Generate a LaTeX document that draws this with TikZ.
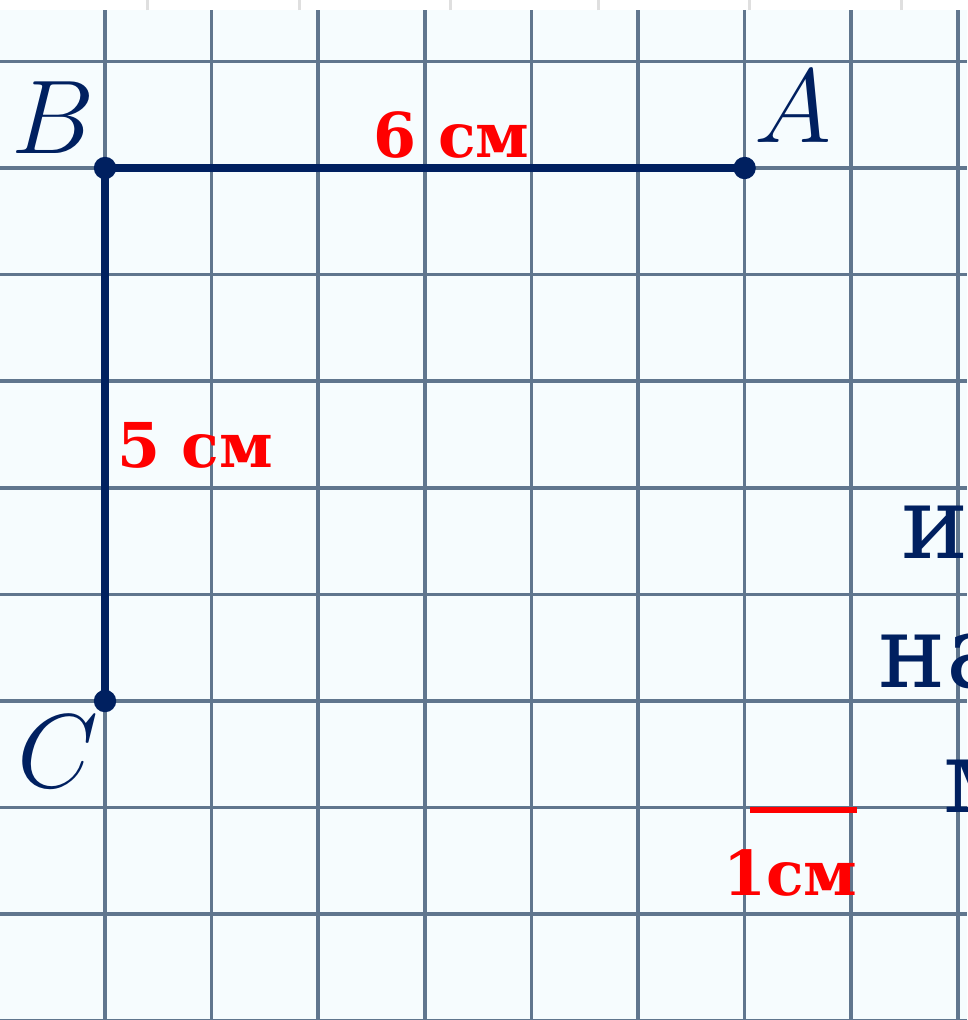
\RequirePackage{fix-cm}
\documentclass[tikz,border=0pt]{standalone}
\usepackage{fontspec}
\newfontfamily\slabfont{DejaVu Serif}
\definecolor{navy}{RGB}{0,32,96}
\definecolor{gridblue}{RGB}{96,118,142}
\definecolor{paper}{RGB}{246,252,254}
\tikzset{
  gridline/.style={draw=gridblue, line width=0.95pt},
  segment/.style={draw=navy, line width=1.9pt},
  vertex/.style={circle, fill=navy, inner sep=0pt, minimum size=0.21cm},
  ptlabel/.style={text=navy, font=\fontsize{28}{31}\selectfont, anchor=base, inner sep=0pt},
  lenlabel/.style={text=red, font=\slabfont\bfseries\fontsize{16.5}{18}\selectfont, anchor=base, inner sep=0pt},
  pagetext/.style={text=navy, font=\slabfont\fontsize{27}{30}\selectfont, anchor=base west, inner sep=0pt},
}
\begin{document}
\begin{tikzpicture}
    \useasboundingbox (-0.985,-7.992) rectangle (8.086,1.576);
    % squared paper
    \fill[paper] (-0.985,-7.992) rectangle (8.086,1.576);
    \foreach \x in {-1,...,8}{
        \draw[gridline] (\x,-7.992) -- (\x,1.48);
    }
    \foreach \y in {-8,...,1}{
        \draw[gridline] (-0.985,\y) -- (8.086,\y);
    }
    \fill[white] (-0.985,1.48) rectangle (8.086,1.576);
    \foreach \x in {0.40,1.82,3.24,4.63,6.05,7.47}{
        \draw[gray!25, line width=0.8pt] (\x,1.48) -- (\x,1.576);
    }

    % the angle
    \node[vertex] (B) at (0,0) {};
    \node[vertex] (A) at (6,0) {};
    \node[vertex] (C) at (0,-5) {};
    \draw[segment] (B.center) -- (A.center);
    \draw[segment] (B.center) -- (C.center);

    \node[ptlabel] (labB) at (-0.49,0.14) {$B$};
    \node[ptlabel] (labA) at (6.45,0.235) {$A$};
    \node[ptlabel] (labC) at (-0.44,-5.81) {$C$};

    \node[lenlabel] (lenBA) at (3.25,0.10) {6 см};
    \node[lenlabel] (lenBC) at (0.845,-2.805) {5 см};

    % scale bar
    \coordinate (s1) at (6.05,-6.02);
    \coordinate (s2) at (7.05,-6.02);
    \draw[red, line width=1.6pt] (s1) -- (s2);
    \node[lenlabel] (unit) at (6.43,-6.82) {1см};

    % text cut off at the right
    \node[pagetext] (t1) at (7.46,-3.66) {и};
    \node[pagetext] (t2) at (7.25,-4.87) {на};
    \node[pagetext] (t3) at (7.86,-6.05) {м};
\end{tikzpicture}
\end{document}
